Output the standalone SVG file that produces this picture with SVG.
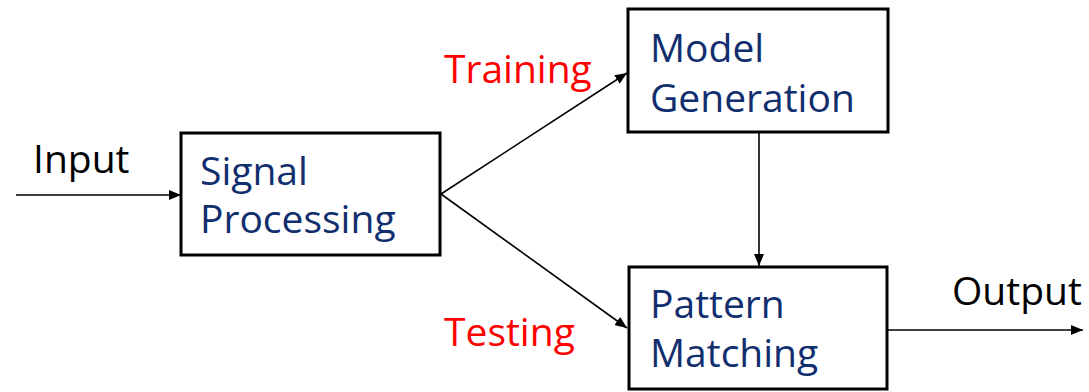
<svg xmlns="http://www.w3.org/2000/svg" width="1089" height="392" viewBox="0 0 1089 392">
  <style>
    .box { fill: #ffffff; stroke: #000000; stroke-width: 3; }
    .label { font-family: "Open Sans", "Noto Sans", sans-serif; font-size: 39px; fill: #112e6e; }
    .io { font-family: "Open Sans", "Noto Sans", sans-serif; font-size: 39px; fill: #000000; }
    .phase { font-family: "Open Sans", "Noto Sans", sans-serif; font-size: 39px; fill: #ff0000; }
    .edge { fill: none; stroke: #000000; stroke-width: 1.6; }
  </style>
  <defs>
    <marker id="arrow" viewBox="0 0 12 10" refX="12" refY="5" markerWidth="12" markerHeight="10" markerUnits="userSpaceOnUse" orient="auto">
      <path d="M0,0 L12,5 L0,10 z" fill="#000000"/>
    </marker>
  </defs>
  <rect width="1089" height="392" fill="#ffffff"/>

  <g id="connectors">
    <line class="edge" x1="16" y1="195" x2="181" y2="195" marker-end="url(#arrow)"/>
    <line class="edge" x1="441" y1="194" x2="627" y2="73" marker-end="url(#arrow)"/>
    <line class="edge" x1="441" y1="194" x2="627" y2="328" marker-end="url(#arrow)"/>
    <line class="edge" x1="759" y1="133" x2="759" y2="266" marker-end="url(#arrow)"/>
    <line class="edge" x1="888" y1="330" x2="1083" y2="330" marker-end="url(#arrow)"/>
  </g>

  <g id="input-label">
    <text class="io" x="33" y="173">Input</text>
  </g>
  <g id="output-label">
    <text class="io" x="952" y="305">Output</text>
  </g>
  <g id="training-label">
    <text class="phase" x="444" y="83">Training</text>
  </g>
  <g id="testing-label">
    <text class="phase" x="444" y="346">Testing</text>
  </g>

  <g id="signal-processing">
    <rect class="box" x="181" y="133" width="259" height="122"/>
    <text class="label" x="200" y="185">Signal</text>
    <text class="label" x="200" y="233">Processing</text>
  </g>
  <g id="model-generation">
    <rect class="box" x="628" y="9" width="260" height="123"/>
    <text class="label" x="650" y="62">Model</text>
    <text class="label" x="650" y="112">Generation</text>
  </g>
  <g id="pattern-matching">
    <rect class="box" x="629" y="267" width="258" height="122"/>
    <text class="label" x="650" y="318">Pattern</text>
    <text class="label" x="650" y="367">Matching</text>
  </g>
</svg>
